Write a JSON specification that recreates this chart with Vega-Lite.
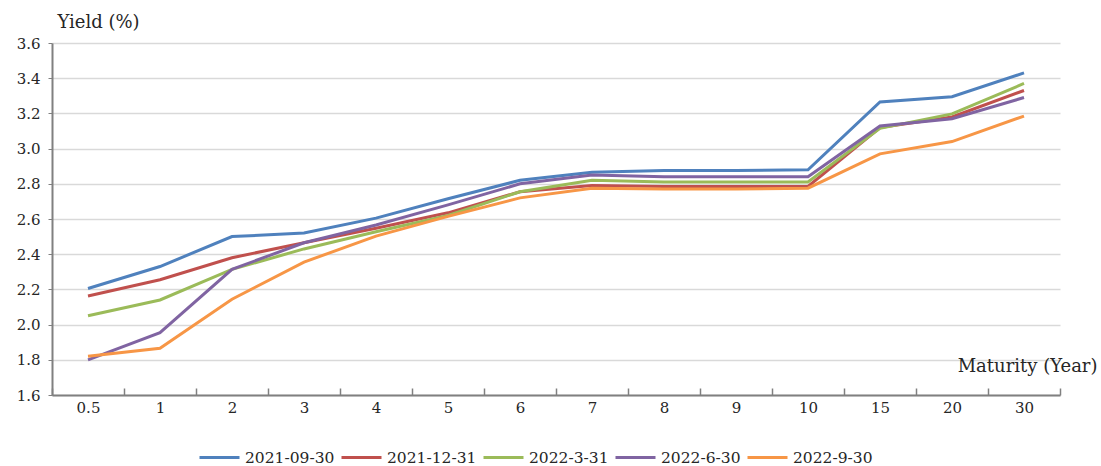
{
  "$schema": "https://vega.github.io/schema/vega-lite/v6.json",
  "width": 1008,
  "height": 352,
  "autosize": {"type": "none"},
  "padding": {"left": 52, "top": 43, "right": 41, "bottom": 71},
  "background": "white",
  "config": {
    "font": "DejaVu Serif",
    "view": {"stroke": null}
  },
  "data": {
    "values": [
      {"m": "0.5", "d": "2021-09-30", "y": 2.205},
      {"m": "1", "d": "2021-09-30", "y": 2.33},
      {"m": "2", "d": "2021-09-30", "y": 2.50},
      {"m": "3", "d": "2021-09-30", "y": 2.52},
      {"m": "4", "d": "2021-09-30", "y": 2.605},
      {"m": "5", "d": "2021-09-30", "y": 2.715},
      {"m": "6", "d": "2021-09-30", "y": 2.82},
      {"m": "7", "d": "2021-09-30", "y": 2.865},
      {"m": "8", "d": "2021-09-30", "y": 2.875},
      {"m": "9", "d": "2021-09-30", "y": 2.875},
      {"m": "10", "d": "2021-09-30", "y": 2.88},
      {"m": "15", "d": "2021-09-30", "y": 3.265},
      {"m": "20", "d": "2021-09-30", "y": 3.295},
      {"m": "30", "d": "2021-09-30", "y": 3.43},
      {"m": "0.5", "d": "2021-12-31", "y": 2.163},
      {"m": "1", "d": "2021-12-31", "y": 2.255},
      {"m": "2", "d": "2021-12-31", "y": 2.38},
      {"m": "3", "d": "2021-12-31", "y": 2.465},
      {"m": "4", "d": "2021-12-31", "y": 2.547},
      {"m": "5", "d": "2021-12-31", "y": 2.635},
      {"m": "6", "d": "2021-12-31", "y": 2.755},
      {"m": "7", "d": "2021-12-31", "y": 2.79},
      {"m": "8", "d": "2021-12-31", "y": 2.785},
      {"m": "9", "d": "2021-12-31", "y": 2.785},
      {"m": "10", "d": "2021-12-31", "y": 2.785},
      {"m": "15", "d": "2021-12-31", "y": 3.12},
      {"m": "20", "d": "2021-12-31", "y": 3.18},
      {"m": "30", "d": "2021-12-31", "y": 3.33},
      {"m": "0.5", "d": "2022-3-31", "y": 2.05},
      {"m": "1", "d": "2022-3-31", "y": 2.14},
      {"m": "2", "d": "2022-3-31", "y": 2.314},
      {"m": "3", "d": "2022-3-31", "y": 2.43},
      {"m": "4", "d": "2022-3-31", "y": 2.528},
      {"m": "5", "d": "2022-3-31", "y": 2.62},
      {"m": "6", "d": "2022-3-31", "y": 2.755},
      {"m": "7", "d": "2022-3-31", "y": 2.82},
      {"m": "8", "d": "2022-3-31", "y": 2.81},
      {"m": "9", "d": "2022-3-31", "y": 2.81},
      {"m": "10", "d": "2022-3-31", "y": 2.81},
      {"m": "15", "d": "2022-3-31", "y": 3.115},
      {"m": "20", "d": "2022-3-31", "y": 3.197},
      {"m": "30", "d": "2022-3-31", "y": 3.37},
      {"m": "0.5", "d": "2022-6-30", "y": 1.80},
      {"m": "1", "d": "2022-6-30", "y": 1.954},
      {"m": "2", "d": "2022-6-30", "y": 2.314},
      {"m": "3", "d": "2022-6-30", "y": 2.465},
      {"m": "4", "d": "2022-6-30", "y": 2.566},
      {"m": "5", "d": "2022-6-30", "y": 2.68},
      {"m": "6", "d": "2022-6-30", "y": 2.80},
      {"m": "7", "d": "2022-6-30", "y": 2.85},
      {"m": "8", "d": "2022-6-30", "y": 2.84},
      {"m": "9", "d": "2022-6-30", "y": 2.84},
      {"m": "10", "d": "2022-6-30", "y": 2.84},
      {"m": "15", "d": "2022-6-30", "y": 3.128},
      {"m": "20", "d": "2022-6-30", "y": 3.17},
      {"m": "30", "d": "2022-6-30", "y": 3.29},
      {"m": "0.5", "d": "2022-9-30", "y": 1.82},
      {"m": "1", "d": "2022-9-30", "y": 1.865},
      {"m": "2", "d": "2022-9-30", "y": 2.144},
      {"m": "3", "d": "2022-9-30", "y": 2.355},
      {"m": "4", "d": "2022-9-30", "y": 2.503},
      {"m": "5", "d": "2022-9-30", "y": 2.615},
      {"m": "6", "d": "2022-9-30", "y": 2.72},
      {"m": "7", "d": "2022-9-30", "y": 2.775},
      {"m": "8", "d": "2022-9-30", "y": 2.77},
      {"m": "9", "d": "2022-9-30", "y": 2.77},
      {"m": "10", "d": "2022-9-30", "y": 2.775},
      {"m": "15", "d": "2022-9-30", "y": 2.97},
      {"m": "20", "d": "2022-9-30", "y": 3.04},
      {"m": "30", "d": "2022-9-30", "y": 3.185}
    ]
  },
  "mark": {"type": "line", "strokeWidth": 3, "strokeJoin": "miter"},
  "encoding": {
    "x": {
      "field": "m",
      "type": "ordinal",
      "sort": ["0.5", "1", "2", "3", "4", "5", "6", "7", "8", "9", "10", "15", "20", "30"],
      "scale": {"type": "band", "paddingInner": 0, "paddingOuter": 0},
      "axis": {
        "title": "Maturity (Year)",
        "titleFont": "DejaVu Serif",
        "titleFontSize": 18,
        "titleFontWeight": "normal",
        "titleColor": "#262626",
        "titleX": 1045,
        "titleY": -29,
        "titleAlign": "right",
        "titleBaseline": "middle",
        "titleAnchor": null,
        "labelAngle": 0,
        "labelFont": "DejaVu Serif",
        "labelFontSize": 15,
        "labelColor": "#262626",
        "labelPadding": 12,
        "tickBand": "extent",
        "tickSize": -7,
        "tickColor": "#808080",
        "tickWidth": 1.5,
        "domainColor": "#808080",
        "domainWidth": 2,
        "grid": false
      }
    },
    "y": {
      "field": "y",
      "type": "quantitative",
      "scale": {"domain": [1.6, 3.6], "nice": false, "zero": false},
      "axis": {
        "title": "Yield (%)",
        "titleFont": "DejaVu Serif",
        "titleFontSize": 18,
        "titleFontWeight": "normal",
        "titleColor": "#262626",
        "titleAngle": 0,
        "titleX": 5,
        "titleY": -21,
        "titleAlign": "left",
        "titleBaseline": "middle",
        "titleAnchor": null,
        "values": [1.6, 1.8, 2.0, 2.2, 2.4, 2.6, 2.8, 3.0, 3.2, 3.4, 3.6],
        "format": ".1f",
        "labelFont": "DejaVu Serif",
        "labelFontSize": 15,
        "labelColor": "#262626",
        "labelPadding": 8,
        "tickSize": 4,
        "tickColor": "#808080",
        "domainColor": "#808080",
        "domainWidth": 2,
        "grid": true,
        "gridColor": "#d9d9d9",
        "gridWidth": 1.5
      }
    },
    "color": {
      "field": "d",
      "type": "nominal",
      "scale": {
        "domain": ["2021-09-30", "2021-12-31", "2022-3-31", "2022-6-30", "2022-9-30"],
        "range": ["#4F81BD", "#C0504D", "#9BBB59", "#8064A2", "#F79646"]
      },
      "legend": {
        "title": null,
        "orient": "none",
        "legendX": 146,
        "legendY": 393,
        "direction": "horizontal",
        "symbolType": "stroke",
        "symbolSize": 1600,
        "symbolStrokeWidth": 3,
        "labelFont": "DejaVu Serif",
        "labelFontSize": 15.5,
        "labelColor": "#262626",
        "labelOffset": 4,
        "columnPadding": 0,
        "symbolOpacity": 1
      }
    }
  }
}
